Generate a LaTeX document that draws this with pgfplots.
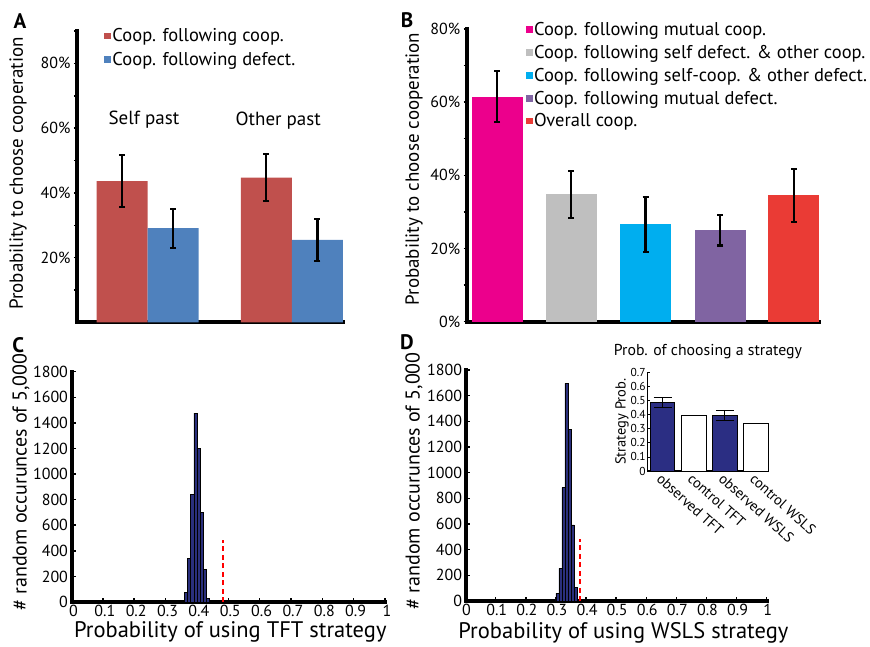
\documentclass[border=0pt]{standalone}
\usepackage{fontspec}
\setmainfont{PT Sans}
\usepackage{pgfplots}
\pgfplotsset{compat=1.18}

\definecolor{aRed}{HTML}{C0504D}
\definecolor{aBlue}{HTML}{4F81BD}
\definecolor{bPink}{HTML}{EC008C}
\definecolor{bGray}{HTML}{BFBFBF}
\definecolor{bCyan}{HTML}{00AEEF}
\definecolor{bPurple}{HTML}{8064A2}
\definecolor{bRed}{HTML}{EA3B35}
\definecolor{histNavy}{HTML}{2A2F7C}
\definecolor{insetNavy}{HTML}{2B2E83}

\newcommand{\fs}[2]{\fontsize{#1}{#2}\selectfont}

\pgfplotsset{
  panel/.style={
    scale only axis, anchor=south west, clip=false,
    axis lines*=left,
    axis line style={-, black, line width=4pt, line cap=rect},
    tick style={black, line width=1.5pt},
    /pgf/number format/assume math mode=true,
    /pgf/number format/1000 sep={},
    tick label style={font=\fs{16}{19}},
  },
  sq/.style={legend image code/.code={\fill[#1] (0pt,-3.4pt) rectangle (6.8pt,3.4pt);}},
  errs/.style={
    error bars/.cd, y dir=both, y explicit,
    error bar style={black, line width=2.2pt},
    error mark options={rotate=90, black, mark size=3pt, line width=2.2pt},
  },
}

\begin{document}
\begin{tikzpicture}
\path[use as bounding box] (0,0) rectangle (870pt,-646pt);

% panel A
\begin{axis}[panel,
  at={(77pt,-322.4pt)}, width=266pt, height=291.4pt,
  xmin=0, xmax=266.3, ymin=0, ymax=90,
  xtick=\empty, ytick={20,40,60,80}, minor ytick={10,30,50,70,90},
  yticklabel={\pgfmathprintnumber{\tick}\%},
  tick align=outside, major tick length=3pt, minor tick length=3pt,
  ybar, bar width=51, bar shift=0pt,
  ylabel={Probability to choose cooperation},
  ylabel style={at={(axis description cs:-0.221,0.511)}, anchor=center, font=\fs{19}{22}},
  legend cell align=left,
  legend style={at={(axis description cs:0.1015,1.0137)}, anchor=north west,
    draw=none, fill=none, inner sep=0pt, font=\fs{18.5}{22}, row sep=5.5pt,
    nodes={inner sep=1.5pt}},
]
\addplot[fill=aRed, draw=none, sq=aRed, errs] coordinates {(45.2,43.6) +- (0,8) (189.5,44.7) +- (0,7.2)};
\addplot[fill=aBlue, draw=none, sq=aBlue, errs] coordinates {(96.3,29.1) +- (0,6) (240.7,25.5) +- (0,6.5)};
\legend{Coop. following coop., Coop. following defect.}
\node[font=\fs{19}{22}] at (axis cs:67,62.5) {Self past};
\node[font=\fs{19}{22}] at (axis cs:201.5,62.2) {Other past};
\end{axis}

% panel B
\begin{axis}[panel,
  at={(466.7pt,-321.6pt)}, width=352.6pt, height=292.6pt,
  xmin=0, xmax=352.6, ymin=0, ymax=80,
  xtick=\empty, ytick={0,20,40,60,80}, minor ytick={10,30,50,70},
  yticklabel={\pgfmathprintnumber{\tick}\%},
  tick align=outside, major tick length=3pt, minor tick length=3pt,
  ybar, bar width=51, bar shift=0pt,
  ylabel={Probability to choose cooperation},
  ylabel style={at={(axis description cs:-0.149,0.5215)}, anchor=center, font=\fs{19}{22}},
  legend cell align=left,
  legend style={at={(axis description cs:0.167,1.029)}, anchor=north west,
    draw=none, fill=none, inner sep=0pt, font=\fs{18.5}{22}, row sep=5.2pt,
    nodes={inner sep=1.5pt}},
]
\addplot[fill=bPink, draw=none, sq=bPink, errs] coordinates {(30.3,61.5) +- (0,7)};
\addplot[fill=bGray, draw=none, sq=bGray, errs] coordinates {(104.5,34.8) +- (0,6.4)};
\addplot[fill=bCyan, draw=none, sq=bCyan, errs] coordinates {(178.8,26.6) +- (0,7.5)};
\addplot[fill=bPurple, draw=none, sq=bPurple, errs] coordinates {(253.5,25.0) +- (0,4.2)};
\addplot[fill=bRed, draw=none, sq=bRed, errs] coordinates {(327.1,34.5) +- (0,7.2)};
\legend{Coop. following mutual coop., Coop. following self defect. \& other coop.,
  Coop. following self-coop. \& other defect., Coop. following mutual defect., Overall coop.}
\end{axis}

% panel C
\begin{axis}[panel,
  at={(71.5pt,-602pt)}, width=313.5pt, height=230.3pt,
  xmin=0, xmax=1, ymin=0, ymax=1800,
  xtick={0,0.1,0.2,0.3,0.4,0.5,0.6,0.7,0.8,0.9,1},
  ytick={0,200,400,600,800,1000,1200,1400,1600,1800},
  tick align=inside, major tick length=4pt,
  x tick label style={xshift=2pt},
  xlabel={Probability of using TFT strategy},
  xlabel style={at={(axis description cs:0.5065,-0.129)}, anchor=center, font=\fs{22.5}{26}},
  ylabel={\# random occurunces of 5,000},
  ylabel style={at={(axis description cs:-0.161,0.521)}, anchor=center, font=\fs{20}{23}},
]
\addplot[ybar, bar width=0.01, bar shift=0pt, fill=histNavy, draw=black, line width=0.5pt]
  coordinates {(0.365,76) (0.375,342) (0.385,843) (0.395,1477) (0.405,1203) (0.415,699) (0.425,256) (0.435,29)};
\addplot[red, line width=2.3pt, dash pattern=on 5pt off 3.5pt] coordinates {(0.484,0) (0.484,485)};
\end{axis}

% panel D
\begin{axis}[panel,
  at={(465.6pt,-601pt)}, width=301.1pt, height=231pt,
  xmin=0, xmax=1, ymin=0, ymax=1800,
  xtick={0,0.1,0.2,0.3,0.4,0.5,0.6,0.7,0.8,0.9,1},
  ytick={0,200,400,600,800,1000,1200,1400,1600,1800},
  tick align=inside, major tick length=4pt,
  x tick label style={xshift=1pt},
  xlabel={Probability of using WSLS strategy},
  xlabel style={at={(axis description cs:0.524,-0.14)}, anchor=center, font=\fs{22.5}{26}},
  ylabel={\# random occurunces of 5,000},
  ylabel style={at={(axis description cs:-0.171,0.52)}, anchor=center, font=\fs{20}{23}},
]
\addplot[ybar, bar width=0.01, bar shift=0pt, fill=histNavy, draw=black, line width=0.5pt]
  coordinates {(0.305,60) (0.315,255) (0.325,883) (0.335,1696) (0.345,1340) (0.355,593) (0.365,104)};
\addplot[red, line width=2.3pt, dash pattern=on 5pt off 3.5pt] coordinates {(0.38,0) (0.38,481)};
\end{axis}

% inset in D
\begin{axis}[scale only axis, anchor=south west, clip=false,
  at={(647.3pt,-471pt)}, width=121pt, height=98.7pt,
  axis lines*=left,
  axis line style={-, black, line width=1.3pt, line cap=rect},
  /pgf/number format/assume math mode=true,
  xmin=-0.49, xmax=3.4, ymin=0, ymax=0.7,
  ytick={0,0.1,0.2,0.3,0.4,0.5,0.6,0.7},
  xtick={0,1,2,3},
  xticklabels={observed TFT, control TFT, observed WSLS, control WSLS},
  xtick style={draw=none},
  ytick style={black, line width=0.8pt},
  tick align=inside, major tick length=2.5pt,
  y tick label style={font=\fs{11.5}{13}, inner sep=1.5pt},
  x tick label style={rotate=-42, anchor=north west, font=\fs{14.5}{16}, inner sep=1pt},
  title={Prob. of choosing a strategy},
  title style={at={(axis description cs:0.5016,1.145)}, anchor=center, font=\fs{15.8}{18}},
  ylabel={Strategy Prob.},
  ylabel style={at={(axis description cs:-0.21,0.5)}, anchor=center, font=\fs{14.5}{16}},
]
\addplot[ybar, bar width=0.8, bar shift=0pt, fill=insetNavy, draw=black, line width=1pt,
  error bars/.cd, y dir=both, y explicit,
  error bar style={black, line width=1pt},
  error mark options={rotate=90, black, mark size=9pt, line width=1pt}]
  coordinates {(0,0.485) +- (0,0.035) (2,0.393) +- (0,0.035)};
\addplot[ybar, bar width=0.8, bar shift=0pt, fill=white, draw=black, line width=1pt]
  coordinates {(1,0.395) (3,0.334)};
\end{axis}

\node[font=\bfseries\fs{21}{24}] at (20pt,-20.7pt) {A};
\node[font=\bfseries\fs{21}{24}] at (407pt,-20.3pt) {B};
\node[font=\bfseries\fs{21}{24}] at (18.3pt,-345pt) {C};
\node[font=\bfseries\fs{21}{24}] at (407pt,-342.5pt) {D};
\end{tikzpicture}
\end{document}
